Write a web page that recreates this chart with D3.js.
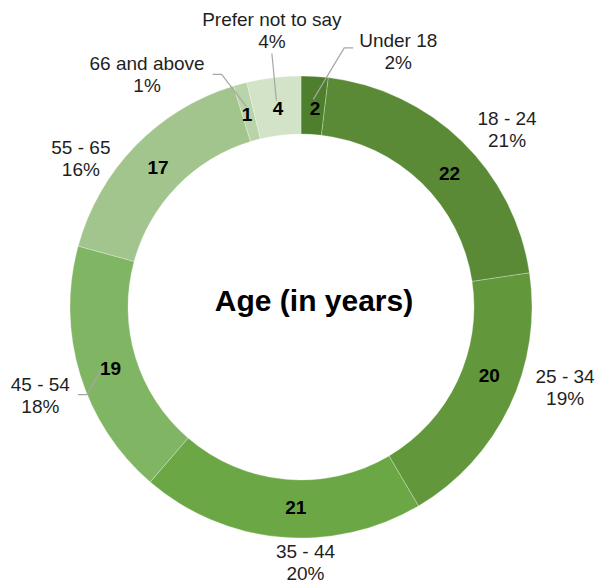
<!DOCTYPE html>
<html>
<head>
<meta charset="utf-8">
<script src="https://cdn.jsdelivr.net/npm/d3@7"></script>
<style>
  html, body { margin: 0; padding: 0; background: #fff; }
  svg { display: block; font-family: "Liberation Sans", Arial, sans-serif; }
</style>
</head>
<body>
<svg id="chart" width="595" height="586"></svg>
<script>
// data
const categories = ["Under 18", "18 - 24", "25 - 34", "35 - 44", "45 - 54", "55 - 65", "66 and above", "Prefer not to say"];
const counts = [2, 22, 20, 21, 19, 17, 1, 4];
const colors = ["#4e7f2c", "#5a8a35", "#62973c", "#6ca746", "#80b564", "#a2c48d", "#b9d4a8", "#d2e3c8"];
const title = "Age (in years)";

// label layout (degrees off the slice middle, radius of label block)
const labelShift = [17.4, 5.1, -8.6, -6.1, -1.6, -10, -18.2, 0.8];
const labelRadius = [274, 272, 276, 255, 275, 266, 279, 279];
const valueShift = [0.6, 3.8, -5.7, -3.6, -0.8, 0.2, -0.4, 0.2];
const leaders = ["Under 18", "45 - 54", "66 and above", "Prefer not to say"];

const width = 595, height = 586;
const cx = 301, cy = 307;
const rOuter = 231, rInner = 173;
const rValue = 200, rLeader = 208;

const total = d3.sum(counts);
const rows = categories.map((c, i) => ({ name: c, count: counts[i], color: colors[i], i: i }));

const svg = d3.select("#chart");
const g = svg.append("g").attr("transform", `translate(${cx},${cy})`);

const pie = d3.pie().sort(null).value(d => d.count);
const arc = d3.arc().innerRadius(rInner).outerRadius(rOuter);
const arcs = pie(rows);

g.selectAll("path.slice")
  .data(arcs)
  .join("path")
  .attr("class", "slice")
  .attr("d", arc)
  .attr("fill", d => d.data.color)
  .attr("stroke", "rgba(255,255,255,0.35)")
  .attr("stroke-width", 0.8);

function polar(angle, r) {
  return [r * Math.sin(angle), -r * Math.cos(angle)];
}
const rad = deg => deg * Math.PI / 180;
const mid = d => (d.startAngle + d.endAngle) / 2;

// value labels
g.selectAll("text.value")
  .data(arcs)
  .join("text")
  .attr("class", "value")
  .attr("x", d => polar(mid(d) + rad(valueShift[d.data.i]), rValue)[0])
  .attr("y", d => polar(mid(d) + rad(valueShift[d.data.i]), rValue)[1] + 7)
  .attr("text-anchor", "middle")
  .attr("font-size", 19)
  .attr("font-weight", "bold")
  .attr("fill", "#000")
  .text(d => d.data.count);

// category labels
const lab = g.selectAll("g.label")
  .data(arcs)
  .join("g")
  .attr("class", "label")
  .each(function (d) {
    const p = polar(mid(d) + rad(labelShift[d.data.i]), labelRadius[d.data.i]);
    d.lx = p[0];
    d.ly = p[1];
  });

lab.append("text")
  .attr("x", d => d.lx)
  .attr("y", d => d.ly - 11 + 7)
  .attr("text-anchor", "middle")
  .attr("font-size", 19)
  .attr("fill", "#1f1f1f")
  .text(d => d.data.name);

lab.append("text")
  .attr("x", d => d.lx)
  .attr("y", d => d.ly + 11 + 7)
  .attr("text-anchor", "middle")
  .attr("font-size", 19)
  .attr("fill", "#1f1f1f")
  .text(d => Math.round(d.data.count / total * 100) + "%");

// leader lines
lab.filter(d => leaders.includes(d.data.name))
  .each(function (d) {
    const el = d3.select(this);
    const w = d3.max(el.selectAll("text").nodes(), n => n.getComputedTextLength());
    const end = polar(mid(d), rLeader);
    let pts;
    if (Math.abs(d.lx - end[0]) < w / 2) {
      // label sits above the slice: drop straight down from its bottom
      pts = [[d.lx, d.ly + 24], end];
    } else if (d.lx > end[0]) {
      const x0 = d.lx - w / 2 - 6;
      const y0 = d.ly - 3;
      pts = [[x0, y0], [x0 - 9, y0], end];
    } else {
      const x0 = d.lx + w / 2 + 8;
      const y0 = d.ly;
      pts = [[x0, y0], [x0 + 9, y0], end];
    }
    el.append("path")
      .attr("d", d3.line()(pts))
      .attr("fill", "none")
      .attr("stroke", "#a6a6a6")
      .attr("stroke-width", 1.2);
  });

// centre title (sits a little right of the ring centre)
g.append("text")
  .attr("x", 13)
  .attr("y", 4)
  .attr("text-anchor", "middle")
  .attr("font-size", 30)
  .attr("font-weight", "bold")
  .attr("fill", "#000")
  .text(title);
</script>
</body>
</html>
